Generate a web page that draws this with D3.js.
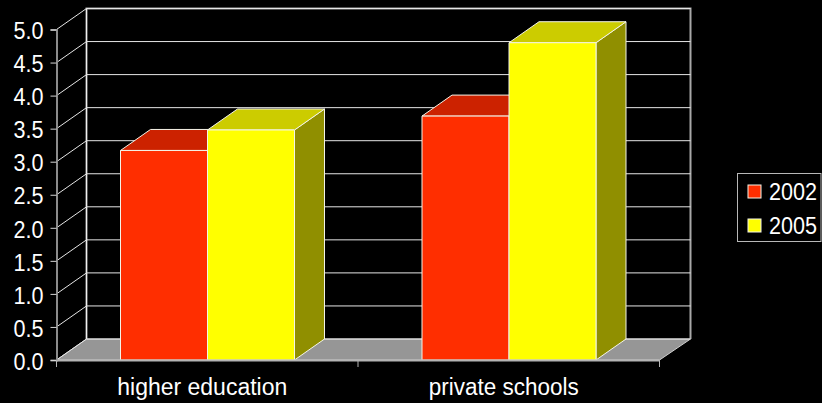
<!DOCTYPE html>
<html><head><meta charset="utf-8">
<script src="https://cdn.jsdelivr.net/npm/d3@7"></script>
<style>html,body{margin:0;padding:0;background:#000}svg{display:block}text{font-family:"Liberation Sans",Arial,sans-serif;fill:#fff}</style>
</head><body><svg id="c" width="822" height="403"></svg>
<script>
const categories = ["higher education", "private schools"];
const seriesNames = ["2002", "2005"];
const values2002 = [3.17, 3.69];
const values2005 = [3.48, 4.80];
const yTicks = [0, 0.5, 1, 1.5, 2, 2.5, 3, 3.5, 4, 4.5, 5];
const colors = {
  "2002": {front: "#ff2e00", top: "#cc2200", side: "#992200"},
  "2005": {front: "#ffff00", top: "#cccc00", side: "#908f00"}
};
const series = [{name: "2002", values: values2002}, {name: "2005", values: values2005}];
const W = 822, H = 403, dx = 30, dy = -21;
const plotL = 56.5, plotR = 659.5, plotB = 360, plotT = 29.5;
const lineCol = "#e6e6e6";
const svg = d3.select("#c");
svg.append("rect").attr("width", W).attr("height", H).attr("fill", "#000");
const x = d3.scaleBand().domain(categories).range([plotL, plotR]);
const y = d3.scaleLinear().domain([0, 5]).range([plotB, plotT]);
const inner = d3.scaleBand().domain(seriesNames).range([0, 174]);
const barX = c => x(c) + (x.bandwidth() - inner.range()[1]) / 2 + 0.25;
const pts = a => a.map(p => p.join(",")).join(" ");

// floor
svg.append("polygon").attr("fill", "#969696").attr("stroke", "#cfcfcf").attr("stroke-width", 1)
  .attr("points", pts([[plotL, plotB], [plotL + dx, plotB + dy], [plotR + dx + 1, plotB + dy], [plotR, plotB]]));
// back wall and side wall edges
svg.append("path").attr("fill", "none").attr("stroke", "#a8a8a8").attr("stroke-width", 2)
  .attr("d", `M${plotL + dx},${plotB + dy}V${plotT + dy}H${plotR + dx + 1}V${plotB + dy}`);
svg.append("path").attr("fill", "none").attr("stroke", "#f0f0f0").attr("stroke-width", 1)
  .attr("d", `M${plotL + dx},${plotB + dy}V${plotT + dy}`);
// gridlines
svg.append("g").selectAll("path").data(yTicks).join("path")
  .attr("fill", "none").attr("stroke", lineCol).attr("stroke-width", 1)
  .attr("d", t => `M${plotL},${y(t)}L${plotL + dx},${y(t) + dy}H${plotR + dx + 1}`);
// bars
categories.forEach((c, ci) => {
  series.forEach(s => {
    const x0 = barX(c) + inner(s.name), w = inner.bandwidth(), yt = y(s.values[ci]), col = colors[s.name];
    const g = svg.append("g").attr("stroke", "#f4f4e8").attr("stroke-width", 1).attr("stroke-linejoin", "round");
    g.append("polygon").attr("fill", col.side)
      .attr("points", pts([[x0 + w, yt], [x0 + w + dx, yt + dy], [x0 + w + dx, plotB + dy], [x0 + w, plotB]]));
    g.append("polygon").attr("fill", col.top)
      .attr("points", pts([[x0, yt], [x0 + dx, yt + dy], [x0 + w + dx, yt + dy], [x0 + w, yt]]));
    g.append("rect").attr("fill", col.front).attr("x", x0).attr("y", yt).attr("width", w).attr("height", plotB - yt);
  });
});
// front axes
const gy = svg.append("g").attr("transform", `translate(${plotL},0)`)
  .call(d3.axisLeft(y).tickValues(yTicks).tickFormat(d3.format(".1f")).tickSize(6).tickPadding(7));
gy.select(".domain").attr("stroke", "#8c8c8c").attr("stroke-width", 2);
gy.selectAll(".tick line").attr("stroke", "#d4d4d4");
gy.selectAll("text").style("font-size", "23px").attr("fill", "#fff").attr("dy", "0.40em")
  .attr("textLength", 30).attr("lengthAdjust", "spacingAndGlyphs");
const gx = svg.append("g").attr("transform", `translate(0,${plotB})`)
  .call(d3.axisBottom(x).tickSize(0).tickPadding(18.7));
gx.select(".domain").attr("stroke", "#b4b4b4").attr("stroke-width", 2);
gx.selectAll("text").style("font-size", "23px").attr("fill", "#fff").attr("dx", "-5")
  .attr("textLength", (d, i) => i === 0 ? 170 : 150).attr("lengthAdjust", "spacingAndGlyphs");
svg.append("g").selectAll("line").data([plotL, (plotL + plotR) / 2, plotR]).join("line")
  .attr("x1", d => d).attr("x2", d => d).attr("y1", plotB).attr("y2", plotB + 7)
  .attr("stroke", "#b4b4b4");
// legend
svg.append("rect").attr("x", 737.5).attr("y", 173.5).attr("width", 83.5).attr("height", 68)
  .attr("fill", "#000").attr("stroke", "#b8b8b8").attr("stroke-width", 1);
const lg = svg.append("g").selectAll("g").data(series).join("g")
  .attr("transform", (d, i) => `translate(748,${185 + i * 34})`);
lg.append("rect").attr("width", 13).attr("height", 13)
  .attr("fill", d => colors[d.name].front).attr("stroke", "#f4f4e8");
lg.append("text").attr("x", 21).attr("y", 14.5).style("font-size", "23px")
  .attr("textLength", 48).attr("lengthAdjust", "spacingAndGlyphs").text(d => d.name);
</script></body></html>
